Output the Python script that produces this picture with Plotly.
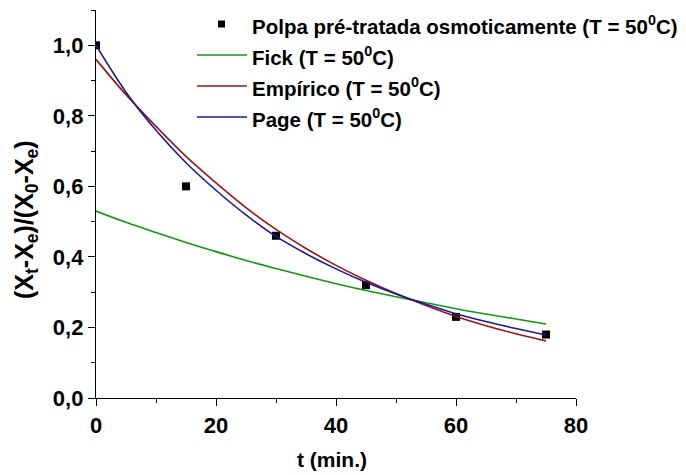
import plotly.graph_objects as go

# Experimental data
t_exp = [0, 15, 30, 45, 60, 75]
y_exp = [1.00, 0.60, 0.46, 0.32, 0.23, 0.18]

# Model curves
t_mod = [0, 5, 10, 15, 20, 25, 30, 35, 40, 45, 50, 55, 60, 65, 70, 75]
y_fick = [0.530, 0.498, 0.469, 0.441, 0.415, 0.390, 0.367, 0.345, 0.324, 0.305,
          0.287, 0.270, 0.253, 0.238, 0.224, 0.210]
y_emp = [0.960, 0.860, 0.770, 0.685, 0.610, 0.540, 0.478, 0.424, 0.376, 0.334,
         0.296, 0.262, 0.231, 0.205, 0.182, 0.162]
y_page = [1.000, 0.867, 0.759, 0.667, 0.589, 0.519, 0.458, 0.409, 0.366, 0.328,
          0.295, 0.266, 0.239, 0.217, 0.197, 0.179]

x_ticks = [0, 20, 40, 60, 80]
y_ticks = [0.0, 0.2, 0.4, 0.6, 0.8, 1.0]

names = ["Polpa pré-tratada osmoticamente (T = 50<sup>0</sup>C)",
         "Fick (T = 50<sup>0</sup>C)",
         "Empírico (T = 50<sup>0</sup>C)",
         "Page (T = 50<sup>0</sup>C)"]
colors = ["black", "#139913", "#9e1414", "#1a1a9a"]
x_title = "t (min.)"
y_title = "(X<sub>t</sub>-X<sub>e</sub>)/(X<sub>0</sub>-X<sub>e</sub>)"

FONT = "Liberation Sans, Arial, sans-serif"
W, H = 686, 475
L, R, T, B = 96, 110, 10, 77
PW, PH = W - L - R, H - T - B


def px(xp):
    return (xp - L) / PW


def py(yp):
    return (H - B - yp) / PH


fig = go.Figure()
fig.add_trace(go.Scatter(x=t_exp, y=y_exp, mode="markers",
                         marker=dict(symbol="square", size=8, color=colors[0]),
                         name=names[0], showlegend=False))
for ys, nm, c in zip([y_fick, y_emp, y_page], names[1:], colors[1:]):
    fig.add_trace(go.Scatter(x=t_mod, y=ys, mode="lines",
                             line=dict(color=c, width=1.6, shape="spline"),
                             name=nm, showlegend=False))

# Legend drawn by hand to match the reference layout
row_y = [24, 55, 86, 117]
shapes = []
annotations = []
for i, (nm, c, ry) in enumerate(zip(names, colors, row_y)):
    if i == 0:
        shapes.append(dict(type="rect", xref="paper", yref="paper",
                           x0=px(218), x1=px(225), y0=py(ry + 3.5), y1=py(ry - 3.5),
                           fillcolor=c, line=dict(width=0)))
    else:
        shapes.append(dict(type="line", xref="paper", yref="paper",
                           x0=px(197), x1=px(247), y0=py(ry), y1=py(ry),
                           line=dict(color=c, width=1.6)))
    annotations.append(dict(text=nm, xref="paper", yref="paper", x=px(250), y=py(ry + 1),
                            xanchor="left", yanchor="middle", showarrow=False,
                            font=dict(size=20.5, family=FONT, weight="bold", color="black")))

# Axis titles
annotations.append(dict(text=x_title, xref="paper", yref="paper", x=px(332), y=py(460),
                        xanchor="center", yanchor="middle", showarrow=False,
                        font=dict(size=21, family=FONT, weight="bold", color="black")))
annotations.append(dict(text=y_title, xref="paper", yref="paper", x=px(26), y=py(220),
                        xanchor="center", yanchor="middle", showarrow=False, textangle=-90,
                        font=dict(size=25, family=FONT, weight="bold", color="black")))

fig.update_layout(
    width=W, height=H,
    margin=dict(l=L, r=R, t=T, b=B),
    paper_bgcolor="white", plot_bgcolor="white",
    separators=",.",
    font=dict(family=FONT, color="black"),
    showlegend=False,
    shapes=shapes, annotations=annotations,
)
fig.update_xaxes(range=[0, 80], tickvals=x_ticks, ticktext=[str(v) for v in x_ticks],
                 showline=True, linecolor="black", linewidth=1.3, showgrid=False, zeroline=False,
                 ticks="outside", ticklen=7, tickwidth=1.3, tickcolor="black",
                 minor=dict(dtick=10, ticks="outside", ticklen=4, tickwidth=1.3, tickcolor="black", showgrid=False),
                 tickfont=dict(size=22, family=FONT, weight="bold"))
fig.update_yaxes(range=[0, 1.1], tickvals=y_ticks, tickformat=".1f",
                 showline=True, linecolor="black", linewidth=1.3, showgrid=False, zeroline=False,
                 ticks="outside", ticklen=7, tickwidth=1.3, tickcolor="black",
                 minor=dict(dtick=0.1, ticks="outside", ticklen=4, tickwidth=1.3, tickcolor="black", showgrid=False),
                 tickfont=dict(size=22, family=FONT, weight="bold"))

fig.write_html("out.html")
